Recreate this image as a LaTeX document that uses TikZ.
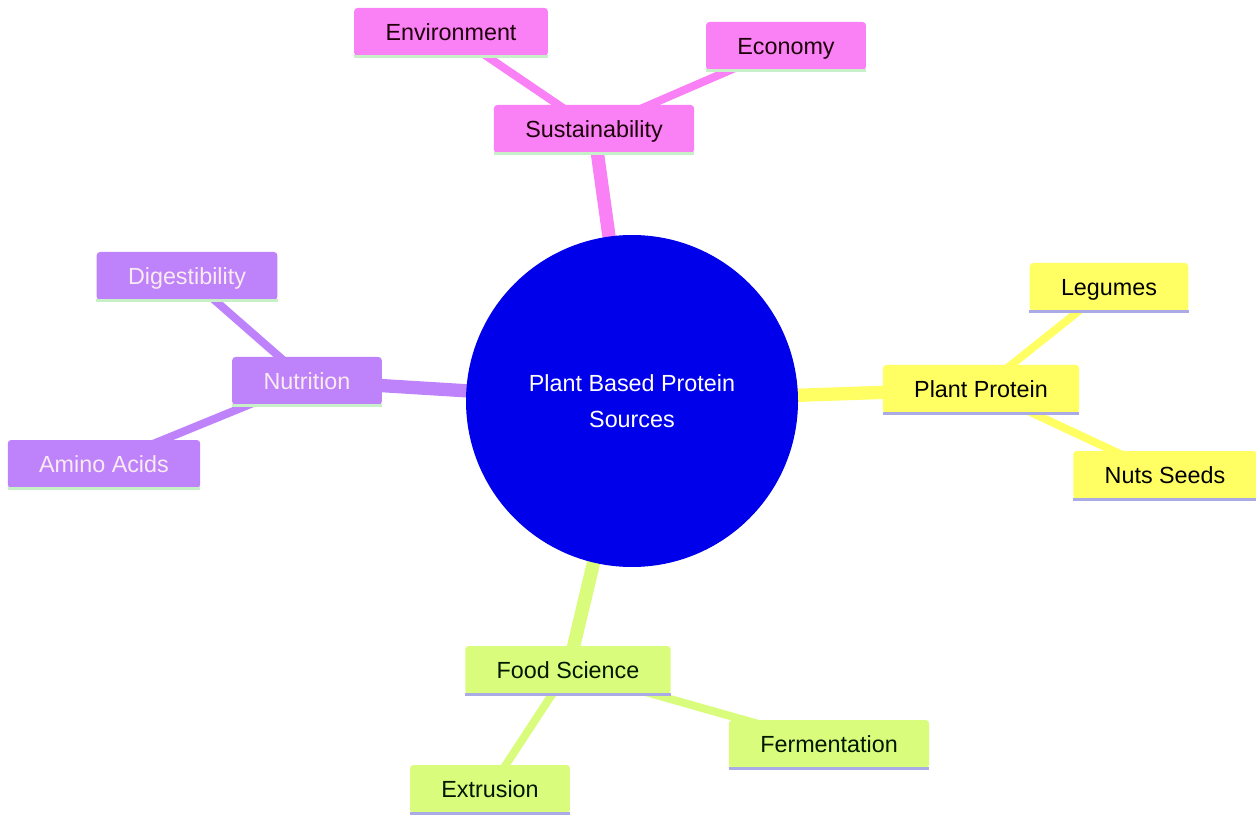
\documentclass[tikz,border=0pt]{standalone}
\usepackage{fontspec}
\setmainfont{Liberation Sans}
\usetikzlibrary{positioning, backgrounds}
\definecolor{sustpink}{RGB}{250,128,245}
\definecolor{nutrpurple}{RGB}{190,130,250}
\definecolor{protyellow}{RGB}{255,255,100}
\definecolor{foodgreen}{RGB}{218,252,125}
\definecolor{rootblue}{RGB}{0,0,235}
\definecolor{lineagreen}{RGB}{200,240,200}
\definecolor{linelav}{RGB}{170,170,230}
\begin{document}
\begin{tikzpicture}[x=0.75pt, y=-0.75pt]
                \tikzset{leaf/.style={rectangle, rounded corners=2.5pt, inner xsep=23.5pt, inner ysep=0pt,
                        minimum height=36pt, text height=14.5pt, text depth=1.5pt,
                        font=\fontsize{17.5}{21}\selectfont}};
                \tikzset{sustleaf/.style={leaf, fill=sustpink, text=black!85!purple}};
                \tikzset{nutrleaf/.style={leaf, fill=nutrpurple, text=white!92!purple}};
                \tikzset{protleaf/.style={leaf, fill=protyellow, text=black}};
                \tikzset{foodleaf/.style={leaf, fill=foodgreen, text=black!90!green}};
                \tikzset{trunk/.style={line width=10pt}};
                \tikzset{twig/.style={line width=6pt}};
                \tikzset{undl/.style={line width=2.2pt}};
                \useasboundingbox (0, 0) rectangle (1256, 816);
                % centre
                \node[circle, fill=rootblue, minimum size=249pt, inner sep=0pt, text=white, align=center,
                      font=\fontsize{17.5}{27}\selectfont] (root) at (632, 401) {Plant Based Protein\\Sources};
                % branches
                \node[sustleaf] (sust) at (594, 129) {Sustainability};
                \node[sustleaf] (env) at (451, 32) {Environment};
                \node[sustleaf] (econ) at (786, 46) {Economy};
                \node[nutrleaf] (nutr) at (307, 381) {Nutrition};
                \node[nutrleaf] (dige) at (187, 276) {Digestibility};
                \node[nutrleaf] (amino) at (104, 464) {Amino Acids};
                \node[protleaf] (prot) at (981, 389) {Plant Protein};
                \node[protleaf] (leg) at (1109, 287) {Legumes};
                \node[protleaf] (nuts) at (1165, 475) {Nuts Seeds};
                \node[foodleaf] (food) at (568, 670) {Food Science};
                \node[foodleaf] (ferm) at (829, 744) {Fermentation};
                \node[foodleaf] (extr) at (490, 789) {Extrusion};
                % underlines
                \foreach \n in {sust, env, econ, nutr, dige, amino}
                    \draw[undl, lineagreen] (\n.south west) -- (\n.south east);
                \foreach \n in {prot, leg, nuts, food, ferm, extr}
                    \draw[undl, linelav] (\n.south west) -- (\n.south east);
                % connectors behind the boxes
                \begin{scope}[on background layer]
                \draw[sustpink, trunk] (root.center) -- (sust.center);
                \draw[nutrpurple, trunk] (root.center) -- (nutr.center);
                \draw[protyellow, trunk] (root.center) -- (prot.center);
                \draw[foodgreen, trunk] (root.center) -- (food.center);
                \draw[sustpink, twig] (sust.center) -- (env.center) (sust.center) -- (econ.center);
                \draw[nutrpurple, twig] (nutr.center) -- (dige.center) (nutr.center) -- (amino.center);
                \draw[protyellow, twig] (prot.center) -- (leg.center) (prot.center) -- (nuts.center);
                \draw[foodgreen, twig] (food.center) -- (ferm.center) (food.center) -- (extr.center);
                \end{scope}
            \end{tikzpicture}
\end{document}
